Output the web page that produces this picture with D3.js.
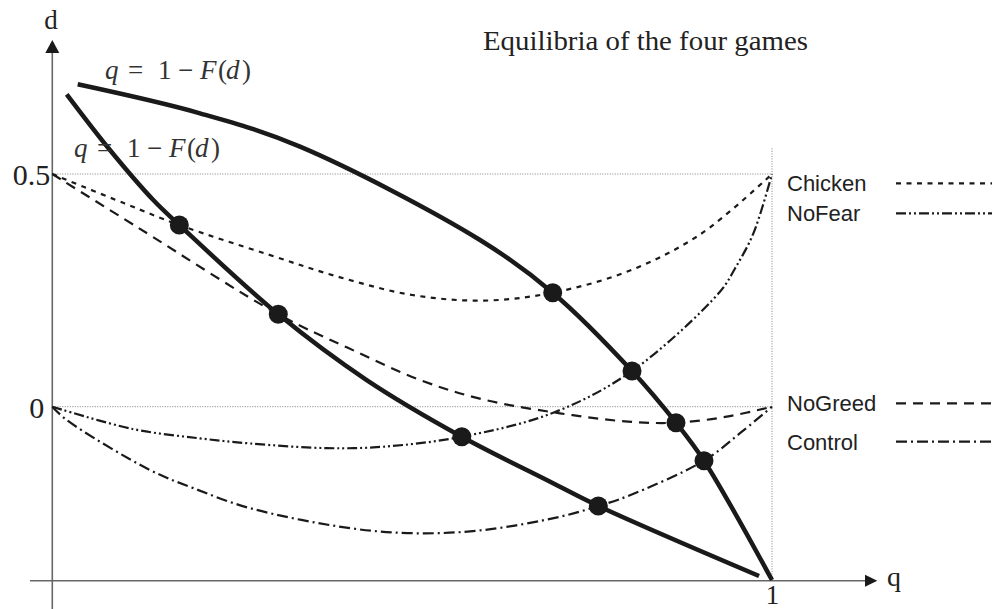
<!DOCTYPE html>
<html>
<head>
<meta charset="utf-8">
<script src="https://cdn.jsdelivr.net/npm/d3@7"></script>
<style>
  html, body { margin: 0; padding: 0; background: #fff; }
  svg { display: block; }
</style>
</head>
<body>
<svg id="chart" width="992" height="609"></svg>
<script>
// ---- data: (q, d) points of each game's curve ----
const chicken = [[0,0.5],[0.1,0.437],[0.1765,0.3904],[0.3,0.327],[0.4,0.278],[0.5,0.240],[0.6,0.228],[0.6953,0.245],[0.8,0.291],[0.9,0.37],[1,0.5]];
const noFear  = [[0,0],[0.112,-0.048],[0.205,-0.068],[0.275,-0.079],[0.381,-0.089],[0.46,-0.086],[0.569,-0.0645],[0.696,-0.013],[0.8055,0.0767],[0.9277,0.247],[0.9486,0.297],[0.974,0.372],[1,0.5]];
const noGreed = [[0,0.5],[0.12,0.384],[0.314,0.1985],[0.41,0.127],[0.511,0.0574],[0.6,0.015],[0.7055,-0.0142],[0.8,-0.032],[0.8666,-0.0344],[0.937,-0.0215],[1,0]];
const control = [[0,0],[0.02,-0.0286],[0.1357,-0.136],[0.196,-0.175],[0.2747,-0.218],[0.4137,-0.261],[0.506,-0.272],[0.599,-0.265],[0.7055,-0.2364],[0.7587,-0.2134],[0.798,-0.193],[0.9055,-0.116],[0.9555,-0.057],[1,0]];

// the two q = 1 - F(d) curves
const fLow  = [[0.02,0.6713],[0.0801,0.5516],[0.1403,0.4441],[0.1765,0.3904],[0.314,0.1985],[0.4368,0.0573],[0.569,-0.0645],[0.687,-0.1575],[0.7587,-0.2134],[0.982,-0.3638]];
const fHigh = [[0.0353,0.6927],[0.2052,0.6304],[0.3442,0.5587],[0.5943,0.3582],[0.6953,0.245],[0.8055,0.0767],[0.8666,-0.0344],[0.9055,-0.116],[1,-0.3724]];

// equilibria (intersections)
const equilibria = [[0.1765,0.3904],[0.314,0.1985],[0.569,-0.0645],[0.7587,-0.2134],[0.6953,0.245],[0.8055,0.0767],[0.8666,-0.0344],[0.9055,-0.116]];

const gameNames = ["Chicken", "NoFear", "NoGreed", "Control"];
const yTicks = [0, 0.5];
const yTickLabels = ["0", "0.5"];
const xTicks = [1];
const xTickLabels = ["1"];
const dAxisLevel = -0.374;   // d value where the q axis sits
const refTop = 0.555;        // top of the q = 1 guide

// ---- layout ----
const svg = d3.select("#chart");
const x = d3.scaleLinear().domain([0, 1]).range([52.3, 772]);
const y = d3.scaleLinear().domain([0, 0.5]).range([406.7, 174]);

const ink = "#1a1a1a";
const axisCol = "#666";
const serif = "Liberation Serif";
const dashes = {
  Chicken: "5,5.5",
  NoFear:  "10,3,2,3,2,3",
  NoGreed: "10,7",
  Control: "11,4,2,4"
};
const series = { Chicken: chicken, NoFear: noFear, NoGreed: noGreed, Control: control };

// dotted guides
const guides = svg.append("g")
  .attr("stroke", "#808080").attr("stroke-width", 1).attr("stroke-dasharray", "1,1.5");
yTicks.forEach(v => {
  guides.append("line")
    .attr("x1", x(0)).attr("x2", x(1))
    .attr("y1", y(v)).attr("y2", y(v));
});
guides.append("line")
  .attr("x1", x(1)).attr("x2", x(1))
  .attr("y1", y(refTop)).attr("y2", y(dAxisLevel));

// axes lines with arrows
const axY = x(0), axX = y(dAxisLevel);
svg.append("line").attr("x1", axY).attr("x2", axY).attr("y1", 50).attr("y2", 609)
  .attr("stroke", axisCol).attr("stroke-width", 1.6);
svg.append("path").attr("d", `M${axY},40 L${axY-7},53 L${axY+7},53 Z`).attr("fill", ink);
svg.append("line").attr("x1", 30).attr("x2", 868).attr("y1", axX).attr("y2", axX)
  .attr("stroke", axisCol).attr("stroke-width", 1.6);
svg.append("path").attr("d", `M877.3,${axX} L865,${axX-6} L865,${axX+6} Z`).attr("fill", ink);

svg.append("text").attr("x", 51).attr("y", 29).attr("text-anchor", "middle")
  .attr("font-family", serif).attr("font-size", 27).attr("fill", "#222").text("d");
svg.append("text").attr("x", 887).attr("y", 586)
  .attr("font-family", serif).attr("font-size", 28).attr("fill", "#222").text("q");

// tick labels via d3 axes
const yAxis = svg.append("g").attr("transform", `translate(${axY},0)`)
  .call(d3.axisLeft(y).tickValues(yTicks).tickSize(0).tickPadding(3)
    .tickFormat((d) => yTickLabels[yTicks.indexOf(d)]));
yAxis.select(".domain").remove();
yAxis.selectAll("text")
  .attr("font-family", serif).attr("font-size", 30).attr("fill", "#222")
  .attr("dy", "0.36em")
  .attr("x", d => d === 0 ? -8 : -2);

const xAxis = svg.append("g").attr("transform", `translate(0,${axX})`)
  .call(d3.axisBottom(x).tickValues(xTicks).tickSize(0).tickPadding(4)
    .tickFormat((d) => xTickLabels[xTicks.indexOf(d)]));
xAxis.select(".domain").remove();
xAxis.selectAll("text")
  .attr("font-family", serif).attr("font-size", 27).attr("fill", "#222")
  .attr("dy", "0.7em");

// game curves
const line = d3.line().x(p => x(p[0])).y(p => y(p[1])).curve(d3.curveCatmullRom.alpha(0.5));
gameNames.forEach(name => {
  svg.append("path").attr("d", line(series[name]))
    .attr("fill", "none").attr("stroke", ink).attr("stroke-width", 2.2)
    .attr("stroke-dasharray", dashes[name]);
});

// q = 1 - F(d) curves
[fLow, fHigh].forEach(pts => {
  svg.append("path").attr("d", line(pts))
    .attr("fill", "none").attr("stroke", ink).attr("stroke-width", 4.5);
});

// equilibrium markers
svg.append("g").selectAll("circle").data(equilibria).join("circle")
  .attr("cx", p => x(p[0])).attr("cy", p => y(p[1])).attr("r", 9.5).attr("fill", ink);

// formula labels, typeset glyph by glyph with math spacing
const formulaGlyphs = [
  { s: "q", dx: 0, it: true },
  { s: "=", dx: 23, it: false },
  { s: "1", dx: 53, it: false },
  { s: "\u2212", dx: 73, it: false },
  { s: "F", dx: 95, it: true },
  { s: "(", dx: 113, it: false },
  { s: "d", dx: 121, it: true },
  { s: ")", dx: 137, it: false }
];
function formula(px, py) {
  const t = svg.append("text").attr("y", py)
    .attr("font-family", serif).attr("font-size", 27).attr("fill", "#333");
  formulaGlyphs.forEach(g => {
    t.append("tspan").attr("x", px + g.dx)
      .attr("font-style", g.it ? "italic" : "normal").text(g.s);
  });
}
formula(105, 79);
formula(74, 157);

// title
svg.append("text").attr("x", 483).attr("y", 50)
  .attr("font-family", serif).attr("font-size", 27).attr("fill", "#222")
  .attr("textLength", 325).attr("lengthAdjust", "spacingAndGlyphs")
  .text("Equilibria of the four games");

// legend
const legendY = { Chicken: 183.3, NoFear: 213.3, NoGreed: 403.3, Control: 441.7 };
const legend = svg.append("g");
gameNames.forEach(name => {
  const ly = legendY[name];
  legend.append("text").attr("x", 787).attr("y", ly + 8)
    .attr("font-family", "Liberation Sans").attr("font-size", 22).attr("fill", "#222")
    .text(name);
  legend.append("line").attr("x1", 896).attr("x2", 992).attr("y1", ly).attr("y2", ly)
    .attr("stroke", ink).attr("stroke-width", 2.2).attr("stroke-dasharray", dashes[name]);
});
</script>
</body>
</html>
